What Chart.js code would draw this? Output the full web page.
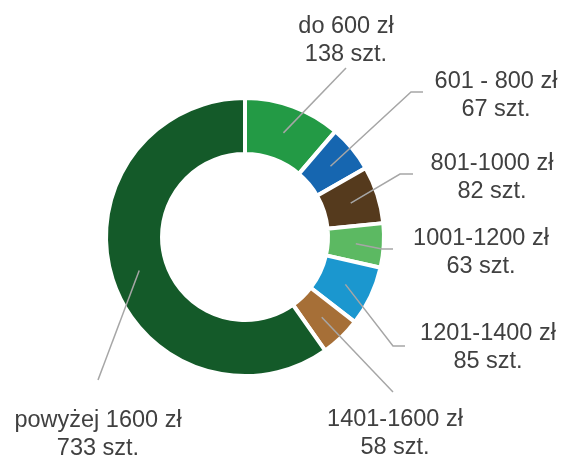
<!DOCTYPE html>
<html>
<head>
<meta charset="utf-8">
<script src="https://cdn.jsdelivr.net/npm/chart.js@4.4.1/dist/chart.umd.min.js"></script>
<style>
  html, body { margin: 0; padding: 0; background: #fff; }
  #wrap { width: 563px; height: 457px; }
</style>
</head>
<body>
<div id="wrap"><canvas id="chart"></canvas></div>
<script>
// Dane wykresu
const categories = ['do 600 zł', '601 - 800 zł', '801-1000 zł', '1001-1200 zł', '1201-1400 zł', '1401-1600 zł', 'powyżej 1600 zł'];
const counts = [138, 67, 82, 63, 85, 58, 733];
const colors = ['#239a45', '#1666b0', '#553a1d', '#5cb962', '#1b97cf', '#a66f37', '#145a29'];

// Położenie etykiet: środek tekstu, linia bazowa pierwszego wiersza, punkty linii odniesienia
const labelPos = [
    { x: 346, y: 33, line: [[346, 68]] },
    { x: 496, y: 88, line: [[423, 92], [411, 92]] },
    { x: 492, y: 170, line: [[413, 174], [400, 174]] },
    { x: 481, y: 245, line: [[393, 249], [382, 249]] },
    { x: 488, y: 340, line: [[405, 346], [393, 346]] },
    { x: 395, y: 426, line: [[393, 392]] },
    { x: 98, y: 427, line: [[98, 380]] }
];

// Plugin rysujący etykiety z liniami odniesienia
const leaderLabels = {
    id: 'leaderLabels',
    afterDatasetsDraw(chart) {
        const ctx = chart.ctx;
        const arcs = chart.getDatasetMeta(0).data;
        ctx.save();
        arcs.forEach((arc, i) => {
            const p = labelPos[i];
            const end = arc.tooltipPosition();
            ctx.strokeStyle = '#a6a6a6';
            ctx.lineWidth = 1.5;
            ctx.beginPath();
            ctx.moveTo(p.line[0][0], p.line[0][1]);
            for (let k = 1; k < p.line.length; k++) {
                ctx.lineTo(p.line[k][0], p.line[k][1]);
            }
            ctx.lineTo(end.x, end.y);
            ctx.stroke();

            ctx.fillStyle = '#404040';
            ctx.font = '23.5px "Liberation Sans", Arial, sans-serif';
            ctx.textAlign = 'center';
            ctx.textBaseline = 'alphabetic';
            ctx.fillText(categories[i], p.x, p.y);
            ctx.fillText(counts[i] + ' szt.', p.x, p.y + 28);
        });
        ctx.restore();
    }
};

const ctx = document.getElementById('chart').getContext('2d');
const myChart = new Chart(ctx, {
    type: 'doughnut',
    data: {
        labels: categories,
        datasets: [{
            data: counts,
            backgroundColor: colors,
            borderColor: '#ffffff',
            borderWidth: 4,
            radius: 139,
            cutout: '59.7%'
        }]
    },
    options: {
        responsive: true,
        maintainAspectRatio: false,
        animation: false,
        layout: { padding: { left: 0, right: 73, top: 17, bottom: 0 } },
        plugins: {
            legend: { display: false },
            tooltip: { enabled: false }
        }
    },
    plugins: [leaderLabels]
});
</script>
</body>
</html>
